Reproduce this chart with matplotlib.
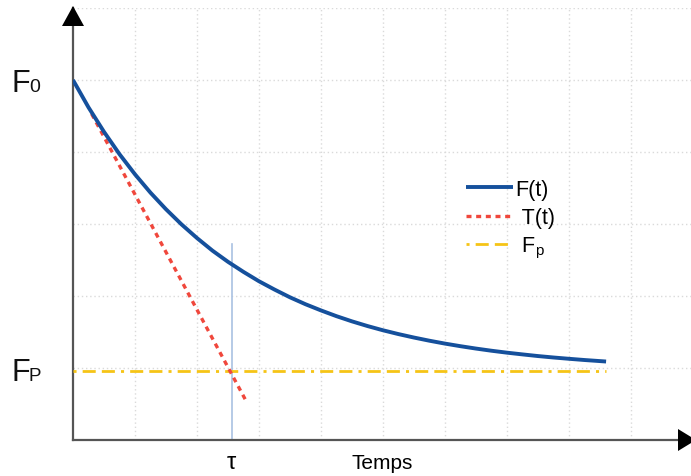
import matplotlib
matplotlib.use("Agg")
import matplotlib.pyplot as plt
from matplotlib.patches import Polygon
from matplotlib.transforms import IdentityTransform

# ---- data ----
t_F = [0, 0.25, 0.5, 0.75, 1.0, 1.25, 1.5, 1.75, 2.0, 2.25, 2.5, 2.75, 3.0,
       3.25, 3.5, 3.75, 4.0, 4.25, 4.5, 4.75, 5.0, 5.25, 5.5, 5.75, 6.0,
       6.25, 6.5, 6.75, 7.0, 7.25, 7.5, 7.75, 8.0, 8.25, 8.6]
F_vals = [5.00, 4.62, 4.28, 3.97, 3.69, 3.435, 3.205, 2.995, 2.805, 2.63,
          2.475, 2.335, 2.205, 2.09, 1.982, 1.886, 1.80, 1.72, 1.648, 1.583,
          1.524, 1.471, 1.423, 1.379, 1.339, 1.303, 1.27, 1.24, 1.213,
          1.189, 1.166, 1.146, 1.128, 1.111, 1.09]
t_T = [0.3, 2.8]
T_vals = [4.53, 0.53]
t_Fp = [0, 8.6]
Fp_vals = [0.96, 0.96]
tau = 2.56
tau_top = 2.72
F0 = 5.0
Fp = 0.96
x_max = 9.97
y_max = 6.0
grid_x = [1, 2, 3, 4, 5, 6, 7, 8, 9]
grid_y = [1, 2, 3, 4, 5, 6]
legend_labels = ["F(t)", " T(t)", r" F$_\mathregular{p}$"]

plt.rcParams["font.family"] = ["Liberation Sans", "DejaVu Sans"]
plt.rcParams["mathtext.default"] = "regular"

W, H = 691, 477
fig = plt.figure(figsize=(W / 100, H / 100), dpi=100)
ax = fig.add_axes([73 / W, (H - 441) / H, 1 - 73 / W, (441 - 9) / H])
ax.set_xlim(0, x_max)
ax.set_ylim(0, y_max)

# grid
ax.set_xticks(grid_x, minor=True)
ax.set_yticks(grid_y, minor=True)
ax.grid(which="minor", color="#dadada", linestyle=(0, (1, 2)), linewidth=1.0)
ax.tick_params(which="minor", length=0)
ax.set_yticks([])
ax.set_xticks([tau])
ax.set_xticklabels(["τ"], fontsize=17)
ax.tick_params(axis="x", which="major", length=0, pad=8)
ax.set_xlabel("Temps", fontsize=15)
ax.xaxis.set_label_coords(0.5, -13 / 432)

for s in ("top", "right"):
    ax.spines[s].set_visible(False)
for s in ("left", "bottom"):
    ax.spines[s].set_color("#555555")
    ax.spines[s].set_linewidth(1.6)

# curves
ax.plot(t_Fp, Fp_vals, color="#f6c416", linewidth=2.0,
        linestyle=(13.8, (4.7, 2.2, 4.7, 2.2, 1.1, 2.2)), label=legend_labels[2], zorder=3)
ax.plot(t_T, T_vals, color="#f0473c", linewidth=2.4,
        linestyle=(0, (1.5, 1.4)), label=legend_labels[1], zorder=3)
ax.plot([tau, tau], [0, tau_top], color="#a9c1e2", linewidth=1.2, zorder=2)
ax.plot(t_F, F_vals, color="#15509c", linewidth=2.8, label=legend_labels[0],
        solid_capstyle="butt", solid_joinstyle="round", zorder=4)

h, l = ax.get_legend_handles_labels()
order = [2, 1, 0]
leg = ax.legend([h[i] for i in order], [l[i] for i in order], loc="upper left",
                bbox_to_anchor=(466 / W, 1 - 180 / H), bbox_transform=fig.transFigure,
                frameon=False, fontsize=15.5, handlelength=2.2, handletextpad=0.1,
                labelspacing=0.33, borderpad=0, borderaxespad=0)

# F0 and Fp labels
ax.annotate("F", xy=(0, F0), xytext=(-62, -11), textcoords="offset pixels",
            fontsize=22, va="baseline", ha="left", color="#111111", annotation_clip=False)
ax.annotate("0", xy=(0, F0), xytext=(-44, -11), textcoords="offset pixels",
            fontsize=14, va="baseline", ha="left", color="#111111", annotation_clip=False)
ax.annotate("F", xy=(0, Fp), xytext=(-62, -9), textcoords="offset pixels",
            fontsize=22, va="baseline", ha="left", color="#111111", annotation_clip=False)
ax.annotate("P", xy=(0, Fp), xytext=(-44, -9), textcoords="offset pixels",
            fontsize=13.5, va="baseline", ha="left", color="#111111", annotation_clip=False)

# arrow heads (pixel coords, origin bottom-left)
up = Polygon([[62, H - 27], [84, H - 27], [73, H - 7]], closed=True,
             facecolor="black", edgecolor="none", transform=IdentityTransform())
right = Polygon([[678, H - 452], [678, H - 430], [696, H - 441]], closed=True,
                facecolor="black", edgecolor="none", transform=IdentityTransform())
fig.patches.extend([up, right])

fig.savefig("out.png", dpi=100)
